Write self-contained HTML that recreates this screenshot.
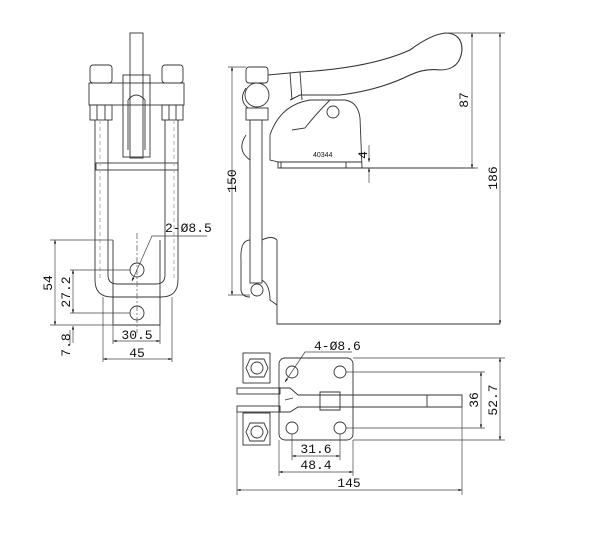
<!DOCTYPE html>
<html><head><style>html,body{margin:0;padding:0;background:#fff}svg{display:block}</style></head><body>
<svg width="600" height="538" viewBox="0 0 600 538" xmlns="http://www.w3.org/2000/svg" font-family="Liberation Mono, monospace" font-size="13">
<defs><marker id="a" viewBox="0 0 10 10" refX="10" refY="5" markerWidth="7" markerHeight="5" orient="auto-start-reverse"><path d="M0,2L10,5L0,8z" fill="#000"/></marker></defs>
<g fill="none" stroke="#333" stroke-width="0.9">
<!-- FRONT VIEW -->
<rect x="130" y="33" width="13" height="125"/>
<rect x="90" y="65" width="22" height="18" rx="3"/>
<rect x="162" y="65" width="21" height="18" rx="3"/>
<rect x="89" y="83" width="95" height="22"/>
<rect x="90" y="105" width="22" height="15"/>
<rect x="162" y="105" width="21" height="15"/>
<path d="M97,105 V120 M105,105 V120 M169,105 V120 M176,105 V120"/>
<rect x="123" y="75" width="27" height="82"/>
<path d="M128,100 L128,150 M145,100 L145,150 M128,100 Q136,90 145,100"/>
<rect x="96" y="163" width="82" height="7"/>
<path d="M95,120 V280 Q95,297 112,297 H161 Q178,297 178,280 V120"/>
<path d="M108,120 V275 Q108,284 117,284 H156 Q165,284 165,275 V120"/>
<path d="M100,120 V280 M174,120 V280" stroke-dasharray="4,3" stroke="#aaa"/>
<path d="M113,240 V325 M160,240 V325 M113,325 H160"/>
<circle cx="137" cy="270" r="7"/><circle cx="137" cy="313" r="7"/>
<path d="M137,233 V333" stroke-dasharray="6,2,2,2" stroke="#777"/>
<!-- SIDE VIEW -->
<rect x="246" y="67" width="22" height="16" rx="3"/>
<circle cx="257" cy="95" r="12"/>
<rect x="246" y="108" width="22" height="12"/>
<rect x="250" y="120" width="12" height="163"/>
<path d="M246,88 Q238,100 248,108 M246,135 Q236,150 250,160"/>
<path d="M250,240 Q240,240 241,260 L241,290 Q242,297 250,297 M262,240 Q272,235 277,240"/>
<circle cx="257" cy="290" r="6"/>
<path d="M277,240 V324 H500 M262,280 Q270,285 270,300 L277,305"/>
<path d="M268,75 L300,72 Q370,68 410,50 Q430,35 445,33 Q462,33 462,50 Q460,70 440,70 Q425,68 410,75 Q380,90 340,95 L300,95 L290,100" stroke-width="1.1"/>
<path d="M290,73 L292,100 M300,72 L302,100"/>
<path d="M270,135 Q280,105 310,100 L345,100 Q358,102 360,118 L362,168 M270,135 L270,160 L278,162 L278,168 H475"/>
<path d="M292,130 L305,128 Q315,115 330,100"/>
<circle cx="333" cy="112" r="6"/>
<path d="M281,162 V168 M346,162 V168 M278,162 H362"/>
<!-- TOP VIEW -->
<rect x="279" y="358" width="74" height="82" rx="6"/>
<circle cx="292" cy="372" r="6"/><circle cx="340" cy="372" r="6"/>
<circle cx="292" cy="428" r="6"/><circle cx="340" cy="428" r="6"/>
<rect x="243" y="353" width="27" height="30"/><rect x="243" y="413" width="27" height="32"/>
<polygon points="250,359 264,359 268,368 264,377 250,377 246,368"/><circle cx="257" cy="368" r="6"/>
<polygon points="250,423 264,423 268,432 264,441 250,441 246,432"/><circle cx="257" cy="432" r="6"/>
<rect x="237" y="388" width="43" height="6"/><rect x="237" y="406" width="43" height="6"/>
<path d="M280,388 L290,388 L298,395 L462,395 L462,407 L298,407 L290,412 L280,412 M285,400 L293,398"/>
<path d="M320,392 H340 V410 H320z M427,395 V407"/>
<!-- DIM LINES -->
<g stroke="#444" stroke-width="0.7">
<path d="M50,240 H113 M70,270 H130 M70,313 H130 M50,325 H113 M70,345 V330"/>
<path d="M103,297 V362 M172,297 V362 M113,325 V344 M160,325 V344"/>
<path d="M55,240 V325" marker-start="url(#a)" marker-end="url(#a)"/>
<path d="M73,270 V313" marker-start="url(#a)" marker-end="url(#a)"/>
<path d="M73,343 V326" marker-end="url(#a)"/>
<path d="M113,341 H160" marker-start="url(#a)" marker-end="url(#a)"/>
<path d="M103,359 H172" marker-start="url(#a)" marker-end="url(#a)"/>
<path d="M132,281 L152,236 H207" marker-start="url(#a)"/>
<path d="M232,67 V295" marker-start="url(#a)" marker-end="url(#a)"/>
<path d="M228,67 H246 M228,295 H250"/>
<path d="M448,33 H505 M462,168 H478"/>
<path d="M472,33 V168" marker-start="url(#a)" marker-end="url(#a)"/>
<path d="M500,33 V324" marker-start="url(#a)" marker-end="url(#a)"/>
<path d="M369,145 V162" marker-end="url(#a)"/><path d="M369,183 V168" marker-end="url(#a)"/>
<path d="M353,358 H505 M346,372 H485 M346,428 H485 M353,440 H505"/>
<path d="M481,372 V428" marker-start="url(#a)" marker-end="url(#a)"/>
<path d="M500,358 V440" marker-start="url(#a)" marker-end="url(#a)"/>
<path d="M292,434 V460 M340,434 V460 M279,440 V476 M353,440 V476 M237,410 V495 M462,407 V495"/>
<path d="M292,456 H340" marker-start="url(#a)" marker-end="url(#a)"/>
<path d="M279,472 H353" marker-start="url(#a)" marker-end="url(#a)"/>
<path d="M237,490 H462" marker-start="url(#a)" marker-end="url(#a)"/>
<path d="M285,382 L305,352 H352" marker-start="url(#a)"/>
</g>
</g>
<g fill="#111">
<text x="165" y="232">2-Ø8.5</text>
<text x="137" y="339" text-anchor="middle">30.5</text>
<text x="137" y="357" text-anchor="middle">45</text>
<text transform="translate(52,283) rotate(-90)" text-anchor="middle">54</text>
<text transform="translate(70,292) rotate(-90)" text-anchor="middle">27.2</text>
<text transform="translate(70,345) rotate(-90)" text-anchor="middle">7.8</text>
<text transform="translate(236,181) rotate(-90)" text-anchor="middle">150</text>
<text transform="translate(468,100) rotate(-90)" text-anchor="middle">87</text>
<text transform="translate(497,178) rotate(-90)" text-anchor="middle">186</text>
<text transform="translate(367,155) rotate(-90)" text-anchor="middle">4</text>
<text x="313" y="157" font-size="7" font-family="Liberation Sans, sans-serif">40344</text>
<text x="314" y="350">4-Ø8.6</text>
<text transform="translate(478,400) rotate(-90)" text-anchor="middle">36</text>
<text transform="translate(497,400) rotate(-90)" text-anchor="middle">52.7</text>
<text x="316" y="453" text-anchor="middle">31.6</text>
<text x="316" y="469" text-anchor="middle">48.4</text>
<text x="349" y="487" text-anchor="middle">145</text>
</g>
</svg>
</body></html>
